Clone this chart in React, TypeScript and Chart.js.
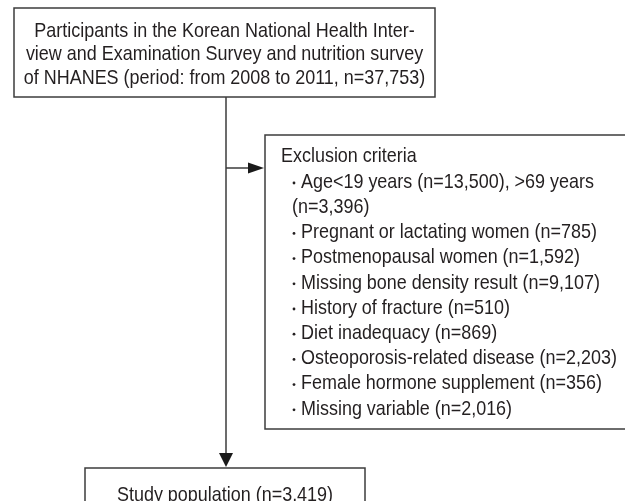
import React, { useEffect, useRef } from "react";
import { Chart, registerables } from "chart.js";

Chart.register(...registerables);

// ---- content ----
const sourceLines = [
  "Participants in the Korean National Health Inter-",
  "view and Examination Survey and nutrition survey",
  "of NHANES (period: from 2008 to 2011, n=37,753)",
];
const exclusionTitle = "Exclusion criteria";
const exclusionItems = [
  "Age<19 years (n=13,500), >69 years",
  "(n=3,396)",
  "Pregnant or lactating women (n=785)",
  "Postmenopausal women (n=1,592)",
  "Missing bone density result (n=9,107)",
  "History of fracture (n=510)",
  "Diet inadequacy (n=869)",
  "Osteoporosis-related disease (n=2,203)",
  "Female hormone supplement (n=356)",
  "Missing variable (n=2,016)",
];
const exclusionBullets = [true, false, true, true, true, true, true, true, true, true];
const resultLines = ["Study population (n=3,419)"];

// ---- layout (in scale units = page pixels) ----
const BOX_TOP = { x0: 14, x1: 435, y0: 8, y1: 97 };
const BOX_EXCL = { x0: 265, x1: 640, y0: 135, y1: 429 };
const BOX_RES = { x0: 85, x1: 365, y0: 468, y1: 520 };
const TRUNK_X = 226;
const BRANCH_Y = 168;

const FONT = '21px "Liberation Sans", Arial, sans-serif';
const SQUEEZE = 0.855;
const TEXT_COLOR = "#231f20";
const LINE_COLOR = "#3c3c3c";

function drawText(ctx: CanvasRenderingContext2D, t: string, x: number, y: number, align: "left" | "center") {
  const w = ctx.measureText(t).width * SQUEEZE;
  const left = align === "center" ? x - w / 2 : x;
  ctx.save();
  ctx.translate(left, y);
  ctx.scale(SQUEEZE, 1);
  ctx.textAlign = "left";
  ctx.fillText(t, 0, 0);
  ctx.restore();
}

const flowPlugin = {
  id: "flow",
  afterDraw(chart: any) {
    const ctx = chart.ctx as CanvasRenderingContext2D;
    const xs = chart.scales.x;
    const ys = chart.scales.y;
    const X = (v: number) => xs.getPixelForValue(v);
    const Y = (v: number) => ys.getPixelForValue(v);

    ctx.save();
    ctx.fillStyle = "#ffffff";
    ctx.fillRect(0, 0, chart.width, chart.height);

    ctx.strokeStyle = LINE_COLOR;
    ctx.lineWidth = 1.5;
    const box = (b: any) => {
      ctx.strokeRect(X(b.x0), Y(b.y0), X(b.x1) - X(b.x0), Y(b.y1) - Y(b.y0));
    };
    box(BOX_TOP);
    box(BOX_EXCL);
    box(BOX_RES);

    // trunk
    ctx.beginPath();
    ctx.moveTo(X(TRUNK_X), Y(BOX_TOP.y1));
    ctx.lineTo(X(TRUNK_X), Y(BOX_RES.y0 - 14));
    ctx.moveTo(X(TRUNK_X), Y(BRANCH_Y));
    ctx.lineTo(X(BOX_EXCL.x0 - 15), Y(BRANCH_Y));
    ctx.stroke();

    ctx.fillStyle = "#1a1a1a";
    // arrow down
    ctx.beginPath();
    ctx.moveTo(X(TRUNK_X - 7), Y(BOX_RES.y0 - 15));
    ctx.lineTo(X(TRUNK_X + 7), Y(BOX_RES.y0 - 15));
    ctx.lineTo(X(TRUNK_X), Y(BOX_RES.y0 - 1));
    ctx.closePath();
    ctx.fill();
    // arrow right
    ctx.beginPath();
    ctx.moveTo(X(BOX_EXCL.x0 - 17), Y(BRANCH_Y - 5.5));
    ctx.lineTo(X(BOX_EXCL.x0 - 17), Y(BRANCH_Y + 5.5));
    ctx.lineTo(X(BOX_EXCL.x0 - 1), Y(BRANCH_Y));
    ctx.closePath();
    ctx.fill();

    // texts
    ctx.fillStyle = TEXT_COLOR;
    ctx.font = FONT;
    ctx.textBaseline = "middle";
    const cx = (BOX_TOP.x0 + BOX_TOP.x1) / 2;
    sourceLines.forEach((t, i) => drawText(ctx, t, X(cx), Y(31 + i * 23.7), "center"));

    drawText(ctx, exclusionTitle, X(281), Y(156), "left");
    exclusionItems.forEach((t, i) => {
      const y = 182 + i * 25.2;
      if (exclusionBullets[i]) {
        ctx.beginPath();
        ctx.arc(X(294), Y(y + 1), 1.4, 0, Math.PI * 2);
        ctx.fill();
        drawText(ctx, t, X(301), Y(y), "left");
      } else {
        drawText(ctx, t, X(292), Y(y), "left");
      }
    });

    const rx = (BOX_RES.x0 + BOX_RES.x1) / 2;
    resultLines.forEach((t, i) => drawText(ctx, t, X(rx), Y(495 + i * 24), "center"));
    ctx.restore();
  },
};

export default function App() {
  const ref = useRef<HTMLCanvasElement | null>(null);
  useEffect(() => {
    document.body.style.margin = "0";
    const canvas = ref.current!;
    const chart = new Chart(canvas, {
      type: "scatter",
      data: { datasets: [] },
      options: {
        animation: false,
        responsive: false,
        maintainAspectRatio: false,
        layout: { padding: 0 },
        plugins: { legend: { display: false }, tooltip: { enabled: false } },
        scales: {
          x: { type: "linear", min: 0, max: 625, display: false },
          y: { type: "linear", min: 0, max: 501, reverse: true, display: false },
        },
      },
      plugins: [flowPlugin],
    });
    return () => chart.destroy();
  }, []);
  return (
    <div style={{ position: "absolute", left: 0, top: 0, width: 625, height: 501 }}>
      <canvas ref={ref} width={625} height={501} style={{ display: "block" }} />
    </div>
  );
}
